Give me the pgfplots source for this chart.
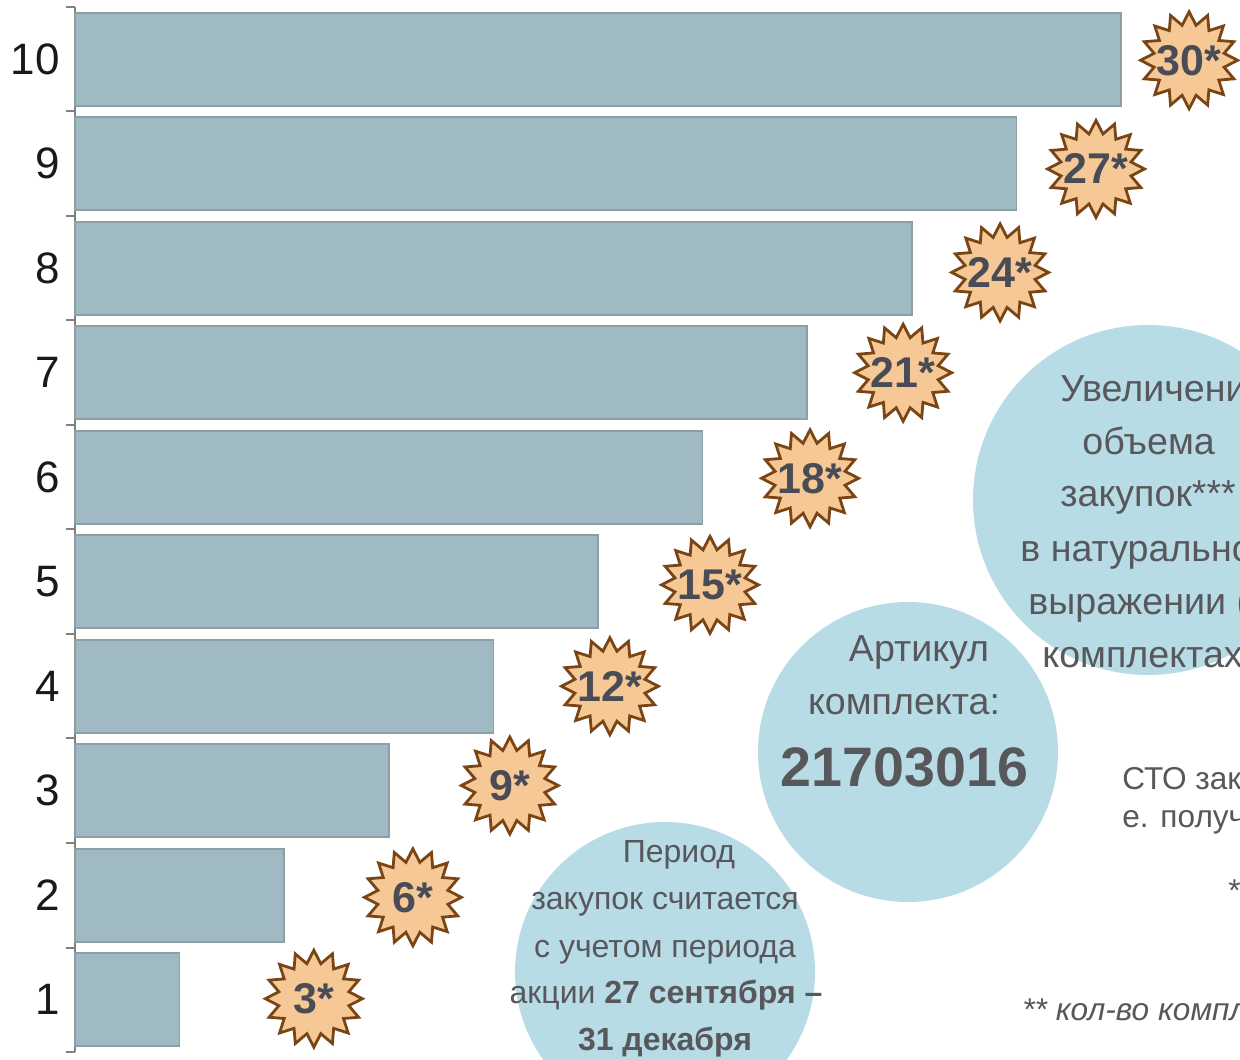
\documentclass[border=0pt]{standalone}
\usepackage{fontspec}
\setmainfont{Liberation Sans}
\usepackage{pgfplots}
\pgfplotsset{compat=1.18}
\usetikzlibrary{shapes.geometric}
\definecolor{barfill}{HTML}{A0BAC3}
\definecolor{barline}{HTML}{8E9EA4}
\definecolor{axisgray}{HTML}{808080}
\definecolor{starfill}{HTML}{F6C896}
\definecolor{starline}{HTML}{7A4515}
\definecolor{startext}{HTML}{4A4C55}
\definecolor{circ}{HTML}{B8DCE6}
\definecolor{ctext}{HTML}{58585C}
\begin{document}
\begin{tikzpicture}
\path[use as bounding box] (0pt,0pt) rectangle (620pt,529.5pt);
\clip (0pt,0pt) rectangle (620pt,529.5pt);
\begin{axis}[
  at={(37.5pt,3.5pt)}, anchor=south west,
  scale only axis, width=582.5pt, height=522.5pt,
  xmin=0, xmax=33.41, ymin=0.5, ymax=10.5,
  axis x line=none,
  axis y line*=left,
  y axis line style={-, draw=axisgray, line width=1pt},
  ytick={1,...,10},
  major tick length=0pt,
  major tick style={draw=none},
  minor ytick={0.5,1.5,...,10.5},
  minor tick length=4.5pt,
  tick align=outside,
  minor tick style={draw=axisgray, line width=1pt},
  yticklabel style={font=\fontsize{22}{22}\selectfont, text=black!90, inner sep=0pt, xshift=-7.5pt},
  /pgf/number format/assume math mode=true,
  clip=false,
]
\addplot[xbar, bar width=46.5pt, fill=barfill, draw=barline, line width=0.8pt]
  coordinates {(3,1) (6,2) (9,3) (12,4) (15,5) (18,6) (21,7) (24,8) (27,9) (30,10)};
% starbursts
\addplot[only marks, mark=none, nodes near coords={}, nodes near coords align=center,
  every node near coord/.append style={anchor=center, star, star points=16, star point ratio=1.36,
    minimum size=48.5pt, inner sep=0pt, fill=starfill, draw=starline, line width=1.4pt}]
  coordinates {(6.85,1.01) (9.69,1.98) (12.47,3.05) (15.34,4.0) (18.21,4.97) (21.08,5.99) (23.75,7.0) (26.53,7.96) (29.28,8.95) (31.95,9.99)};
% starburst labels
\addplot[only marks, mark=none, point meta=explicit symbolic, nodes near coords, nodes near coords align=center,
  every node near coord/.append style={anchor=center, inner sep=0pt, font=\fontsize{21.5}{21.5}\selectfont\bfseries, text=startext}]
  coordinates {(6.85,1.01) [3*] (9.69,1.98) [6*] (12.47,3.05) [9*] (15.34,4.0) [12*] (18.21,4.97) [15*] (21.08,5.99) [18*] (23.75,7.0) [21*] (26.53,7.96) [24*] (29.28,8.95) [27*] (31.95,9.99) [30*]};
\end{axis}
\begin{scope}[x=0.5pt, y=-0.5pt, yshift=529.5pt]
  \fill[circ] (1148,500) circle[radius=87.5pt];
  \fill[circ] (908,752) circle[radius=75pt];
  \fill[circ] (665,972) circle[radius=75pt];
  \begin{scope}[every node/.style={anchor=base west, inner sep=0pt, text=ctext, font=\fontsize{18.8}{18.8}\selectfont}]
    \node at (1060,402) {Увеличение};
    \node at (1082,455) {объема};
    \node at (1060,507) {закупок***};
    \node at (1020,562) {в натуральном};
    \node at (1028,615) {выражении (в};
    \node at (1042,668) {комплектах)};
  \end{scope}
  \begin{scope}[every node/.style={anchor=base, inner sep=0pt, text=ctext, font=\fontsize{18.8}{18.8}\selectfont}]
    \node at (919,662) {Артикул};
    \node at (904,715) {комплекта:};
    \node[font=\fontsize{27.8}{27.8}\selectfont\bfseries] at (904.5,787) {21703016};
  \end{scope}
  \begin{scope}[every node/.style={anchor=base, inner sep=0pt, text=ctext, font=\fontsize{16}{16}\selectfont}]
    \node at (679,863) {Период};
    \node at (665,910) {закупок считается};
    \node at (665,957) {с учетом периода};
    \node at (666,1003) {акции \textbf{27 сентября –}};
    \node at (665,1050) {\textbf{31 декабря}};
  \end{scope}
  \begin{scope}[every node/.style={anchor=base west, inner sep=0pt, text=ctext, font=\fontsize{15.8}{15.8}\selectfont}]
    \node at (1122,790) {СТО закупок};
    \node at (1122,828) {е. получено};
    \node at (1228,902) {*** объем};
    \node[font=\fontsize{15.8}{15.8}\selectfont\itshape] at (1022,1020) {** кол-во комплектов};
  \end{scope}
\end{scope}
\end{tikzpicture}
\end{document}
